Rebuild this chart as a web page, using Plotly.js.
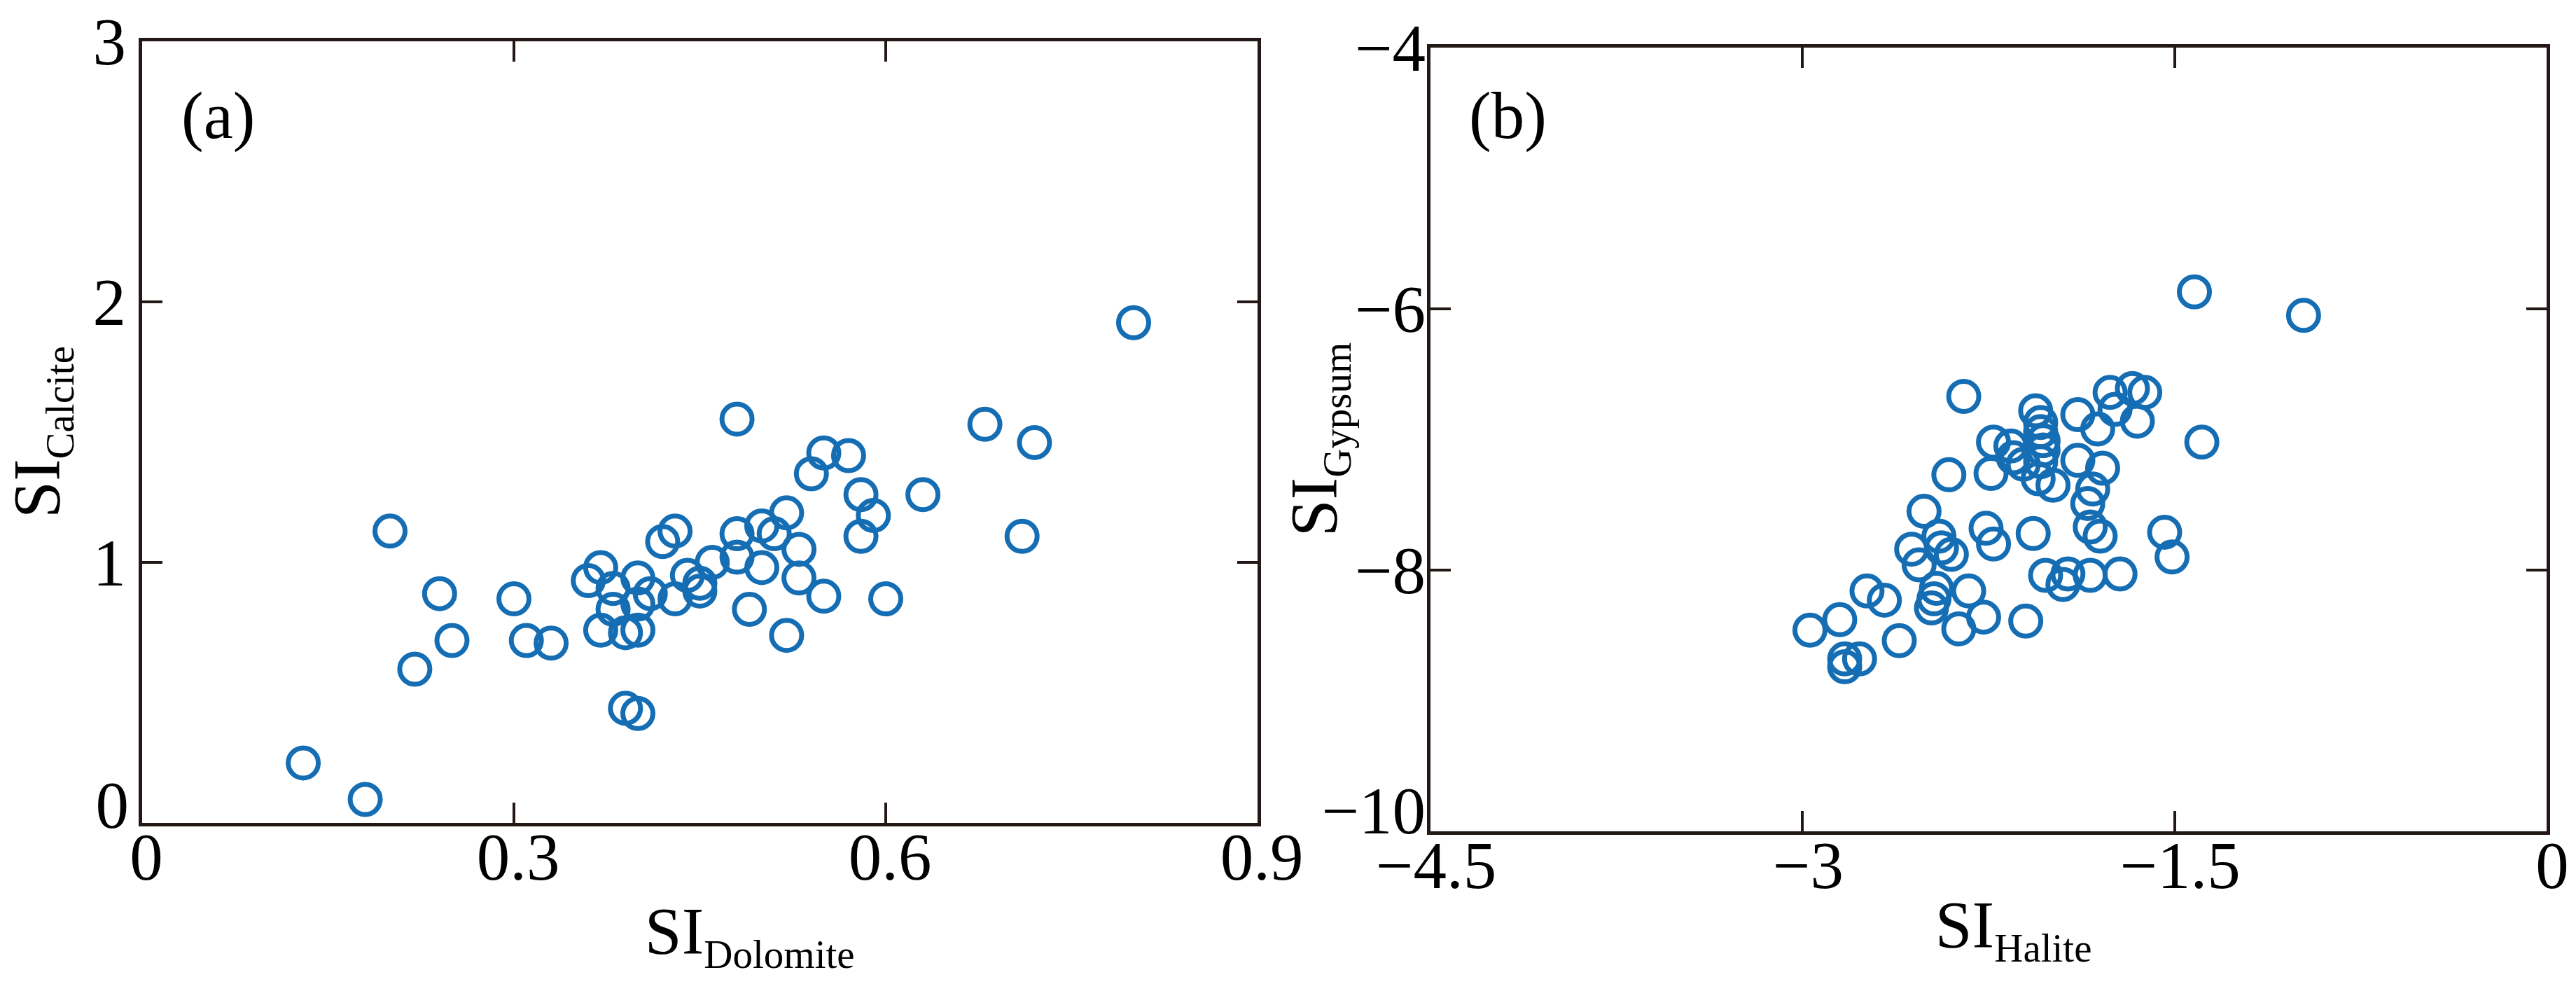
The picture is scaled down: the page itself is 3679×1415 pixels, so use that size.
<!DOCTYPE html>
<html>
<head>
<meta charset="utf-8">
<script src="https://cdn.plot.ly/plotly-3.0.1.min.js"></script>
<style>
html, body { margin: 0; padding: 0; background: #ffffff; }
#chart { width: 3679px; height: 1415px; }
</style>
</head>
<body>
<div id="chart"></div>
<script>
// Panel (a): SI Dolomite vs SI Calcite
const dolomiteSI = [0.13, 0.18, 0.20, 0.22, 0.24, 0.25, 0.30, 0.31, 0.33, 0.36,
  0.37, 0.38, 0.38, 0.37, 0.39, 0.40, 0.40, 0.40, 0.40, 0.39,
  0.41, 0.43, 0.42, 0.43, 0.44, 0.45, 0.45, 0.46, 0.48, 0.48,
  0.49, 0.50, 0.50, 0.48, 0.80, 0.68, 0.72, 0.55, 0.57, 0.54,
  0.58, 0.63, 0.59, 0.58, 0.71, 0.52, 0.51, 0.53, 0.53, 0.55,
  0.60, 0.52];
const calciteSI = [0.23, 0.09, 1.12, 0.59, 0.88, 0.70, 0.86, 0.70, 0.69, 0.93,
  0.98, 0.90, 0.82, 0.74, 0.44, 0.42, 0.94, 0.84, 0.74, 0.73,
  0.88, 0.86, 1.08, 1.12, 0.95, 0.92, 0.89, 1.00, 1.11, 1.02,
  0.82, 1.14, 0.98, 1.55, 1.92, 1.53, 1.46, 1.42, 1.41, 1.34,
  1.26, 1.26, 1.18, 1.10, 1.10, 1.19, 1.11, 1.05, 0.94, 0.87,
  0.86, 0.72];

// Panel (b): SI Halite vs SI Gypsum
const haliteSI = [-1.42, -0.98, -2.35, -1.39, -2.06, -2.04, -2.04, -2.03, -2.03, -2.04,
  -2.23, -2.16, -2.15, -2.11, -2.24, -2.41, -2.05, -1.99, -1.89, -1.81,
  -1.76, -1.74, -1.67, -1.62, -1.65, -1.89, -1.79, -1.83, -1.85, -1.84,
  -1.80, -1.54, -1.51, -2.51, -2.26, -2.23, -2.07, -2.56, -2.45, -2.44,
  -2.40, -2.53, -2.02, -1.93, -1.95, -1.84, -1.72, -2.46, -2.47, -2.48,
  -2.33, -2.74, -2.67, -2.85, -2.97, -2.61, -2.37, -2.27, -2.10, -2.83,
  -2.83, -2.77];
const gypsumSI = [-5.87, -6.05, -6.67, -7.02, -6.78, -6.87, -6.94, -7.01, -7.08, -7.17,
  -7.02, -7.05, -7.14, -7.19, -7.26, -7.27, -7.30, -7.35, -6.81, -6.92,
  -6.64, -6.77, -6.61, -6.64, -6.86, -7.16, -7.22, -7.38, -7.49, -7.67,
  -7.74, -7.71, -7.90, -7.55, -7.68, -7.80, -7.72, -7.84, -7.74, -7.83,
  -7.88, -7.96, -8.04, -8.03, -8.11, -8.04, -8.03, -8.14, -8.22, -8.29,
  -8.16, -8.16, -8.23, -8.38, -8.46, -8.54, -8.45, -8.36, -8.39, -8.68,
  -8.74, -8.68];

// Tick values and labels
const xTickValsA = [0, 0.3, 0.6, 0.9];
const xTickTextA = ['0', '0.3', '0.6', '0.9'];
const yTickValsA = [0, 1, 2, 3];
const yLabelValsA = [1, 2, 3];
const yLabelTextA = ['1', '2', '3'];
const yBottomValA = [0];
const yBottomTextA = ['0'];
const xTickValsB = [-4.5, -3, -1.5, 0];
const xTickTextB = ['\u22124.5', '\u22123', '\u22121.5', '0'];
const yTickValsB = [-10, -8, -6, -4];
const yLabelValsB = [-8, -6, -4];
const yLabelTextB = ['\u22128', '\u22126', '\u22124'];
const yBottomValB = [-10];
const yBottomTextB = ['\u221210'];

const W = 3679, H = 1415;
const FONT = 'Liberation Serif, Times New Roman, serif';
const INK = '#231815';
const BLUE = '#156db3';

const domA = { x: [203 / W, 1796 / W], y: [1 - 1175 / H, 1 - 59 / H] };
const domB = { x: [2043 / W, 3637 / W], y: [1 - 1187 / H, 1 - 68 / H] };

const marker = {
  symbol: 'circle-open',
  size: 43,
  color: BLUE,
  line: { width: 7, color: BLUE }
};

const traces = [
  { type: 'scatter', mode: 'markers', x: dolomiteSI, y: calciteSI,
    xaxis: 'x', yaxis: 'y', marker: marker, hoverinfo: 'x+y' },
  { type: 'scatter', mode: 'markers', x: haliteSI, y: gypsumSI,
    xaxis: 'x2', yaxis: 'y2', marker: marker, hoverinfo: 'x+y' },
  { type: 'scatter', mode: 'markers', x: [], y: [], xaxis: 'x', yaxis: 'y3', hoverinfo: 'skip' },
  { type: 'scatter', mode: 'markers', x: [], y: [], xaxis: 'x', yaxis: 'y5', hoverinfo: 'skip' },
  { type: 'scatter', mode: 'markers', x: [], y: [], xaxis: 'x2', yaxis: 'y4', hoverinfo: 'skip' },
  { type: 'scatter', mode: 'markers', x: [], y: [], xaxis: 'x2', yaxis: 'y6', hoverinfo: 'skip' }
];

const tickFont = { family: FONT, size: 95, color: '#000000' };
const titleFont = { family: FONT, size: 95, color: '#000000' };
// zero-width lead keeps the following no-break spaces from being trimmed,
// which shifts the centred title to the right as in the reference
const lead = n => '\u200B' + '\u00A0'.repeat(n);

function frameAxis(extra) {
  return Object.assign({
    showline: true, linewidth: 5, linecolor: INK, mirror: 'ticks',
    ticks: 'inside', ticklen: 29, tickwidth: 4, tickcolor: INK,
    showgrid: false, zeroline: false, fixedrange: true,
    tickfont: tickFont, tickmode: 'array'
  }, extra);
}

function labelAxis(extra) {
  return Object.assign({
    showline: false, ticks: '', showgrid: false, zeroline: false, fixedrange: true,
    tickmode: 'array', tickfont: tickFont
  }, extra);
}

const layout = {
  width: W, height: H,
  margin: { l: 0, r: 0, t: 0, b: 0, pad: 0 },
  paper_bgcolor: '#ffffff', plot_bgcolor: '#ffffff',
  showlegend: false,
  xaxis: frameAxis({
    domain: domA.x, range: [0, 0.9], anchor: 'y',
    tickvals: xTickValsA, ticktext: xTickTextA,
    ticklabelstandoff: -38, ticklabelshift: 6,
    title: { text: lead(6) + 'SI<sub><span style="font-size:57px">Dolomite</span></sub>',
             font: titleFont, standoff: 0 }
  }),
  yaxis: frameAxis({
    domain: domA.y, range: [0, 3], anchor: 'x',
    tickvals: yTickValsA, showticklabels: false,
    title: { text: 'SI<sub><span style="font-size:57px">Calcite</span></sub>',
             font: titleFont, standoff: 82 }
  }),
  yaxis3: labelAxis({
    domain: domA.y, range: [0, 3], anchor: 'x', overlaying: 'y',
    tickvals: yLabelValsA, ticktext: yLabelTextA, ticklabelstandoff: 22
  }),
  yaxis5: labelAxis({
    domain: domA.y, range: [0, 3], anchor: 'x', overlaying: 'y',
    tickvals: yBottomValA, ticktext: yBottomTextA, ticklabelstandoff: 18, ticklabelshift: -26
  }),
  xaxis2: frameAxis({
    domain: domB.x, range: [-4.5, 0], anchor: 'y2',
    tickvals: xTickValsB, ticktext: xTickTextB,
    ticklabelstandoff: -38, ticklabelshift: 8,
    title: { text: lead(3) + 'SI<sub><span style="font-size:57px">Halite</span></sub>',
             font: titleFont, standoff: 0 }
  }),
  yaxis2: frameAxis({
    domain: domB.y, range: [-10, -4], anchor: 'x2',
    tickvals: yTickValsB, showticklabels: false,
    title: { text: 'SI<sub><span style="font-size:57px">Gypsum</span></sub>',
             font: titleFont, standoff: 98 }
  }),
  yaxis4: labelAxis({
    domain: domB.y, range: [-10, -4], anchor: 'x2', overlaying: 'y2',
    tickvals: yLabelValsB, ticktext: yLabelTextB, ticklabelstandoff: 6
  }),
  yaxis6: labelAxis({
    domain: domB.y, range: [-10, -4], anchor: 'x2', overlaying: 'y2',
    tickvals: yBottomValB, ticktext: yBottomTextB, ticklabelstandoff: 6, ticklabelshift: -30
  }),
  annotations: [
    { text: '(a)', xref: 'x domain', yref: 'y domain', x: 0.034, y: 0.905,
      xanchor: 'left', yanchor: 'middle', showarrow: false,
      font: { family: FONT, size: 95, color: '#000000' } },
    { text: '(b)', xref: 'x2 domain', yref: 'y2 domain', x: 0.033, y: 0.913,
      xanchor: 'left', yanchor: 'middle', showarrow: false,
      font: { family: FONT, size: 95, color: '#000000' } }
  ]
};

Plotly.newPlot('chart', traces, layout, { displayModeBar: false, responsive: false, staticPlot: true });
</script>
</body>
</html>
